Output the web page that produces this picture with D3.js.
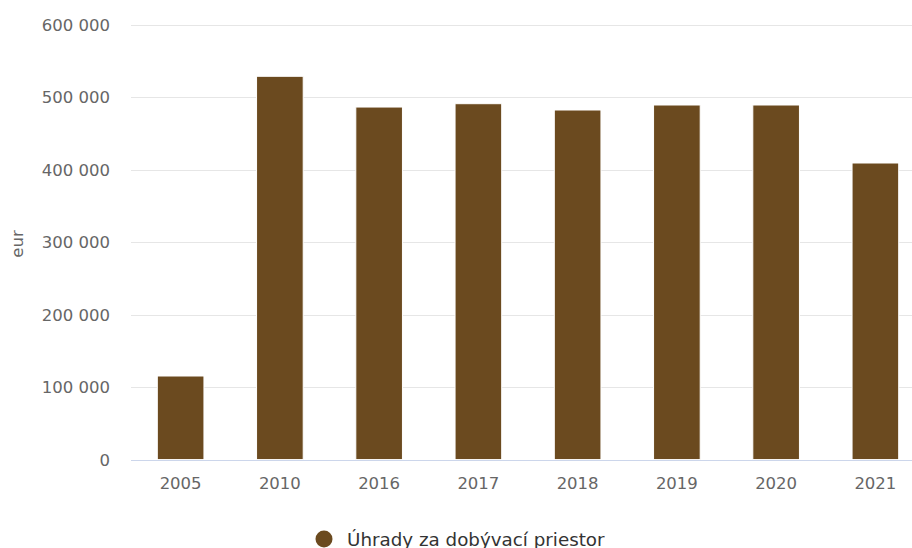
<!DOCTYPE html>
<html><head><meta charset="utf-8">
<script src="https://cdn.jsdelivr.net/npm/d3@7"></script>
<style>body{margin:0;background:#fff}svg{display:block;font-family:"DejaVu Sans",sans-serif}</style>
</head><body><svg id="c" width="912" height="548"></svg>
<script>
const categories = ["2005","2010","2016","2017","2018","2019","2020","2021"];
const values = [115300, 528700, 486300, 490900, 482200, 489100, 489100, 409100];
const yTicks = [0,100000,200000,300000,400000,500000,600000];
const seriesName = "Úhrady za dobývací priestor";
const yTitle = "eur";

const svg = d3.select("#c");
const m = {l:131, r:925, t:24.6, b:459.6};
const x = d3.scaleBand().domain(categories).range([m.l,m.r]).paddingInner(0.53).paddingOuter(0.265);
const y = d3.scaleLinear().domain([0,600000]).range([m.b,m.t]);
const fmt = v => d3.format(",")(v).replace(/,/g," ");
const color = "#6b4a1f";

// grid
svg.append("g").selectAll("line").data(yTicks.filter(d=>d>0)).join("line")
  .attr("x1",m.l).attr("x2",912).attr("y1",d=>Math.round(y(d))+0.5).attr("y2",d=>Math.round(y(d))+0.5)
  .attr("stroke","#e6e6e6").attr("stroke-width",1);

// y axis labels
const ya = svg.append("g").attr("transform",`translate(${m.l-21},0)`)
  .call(d3.axisLeft(y).tickValues(yTicks).tickFormat(fmt).tickSize(0).tickPadding(0));
ya.select(".domain").remove();
ya.selectAll("text").attr("fill","#666").style("font-size","16.5px").style("font-family","DejaVu Sans").attr("dy","0.35em");

// bars
svg.append("g").selectAll("rect").data(values).join("rect")
  .attr("x",(d,i)=>x(categories[i])).attr("width",x.bandwidth())
  .attr("y",d=>y(d)).attr("height",d=>y(0)-y(d))
  .attr("fill",color).attr("stroke","#fff").attr("stroke-width",1);

// x axis
const xa = svg.append("g").attr("transform",`translate(0,${Math.round(m.b)+0.5})`)
  .call(d3.axisBottom(x).tickSize(0).tickPadding(17));
xa.select(".domain").attr("stroke","#ccd6eb").attr("d",`M${m.l},0H912`);
xa.selectAll("text").attr("fill","#666").style("font-size","16.5px").style("font-family","DejaVu Sans");

// y title
svg.append("text").attr("transform","translate(23,244) rotate(-90)")
  .attr("text-anchor","middle").attr("fill","#666").style("font-size","16.5px").text(yTitle);

// legend
const lg = svg.append("g");
lg.append("circle").attr("cx",324).attr("cy",539).attr("r",8.5).attr("fill",color);
lg.append("text").attr("x",347).attr("y",545.5).attr("fill","#333").style("font-size","18.3px").text(seriesName);
</script></body></html>
